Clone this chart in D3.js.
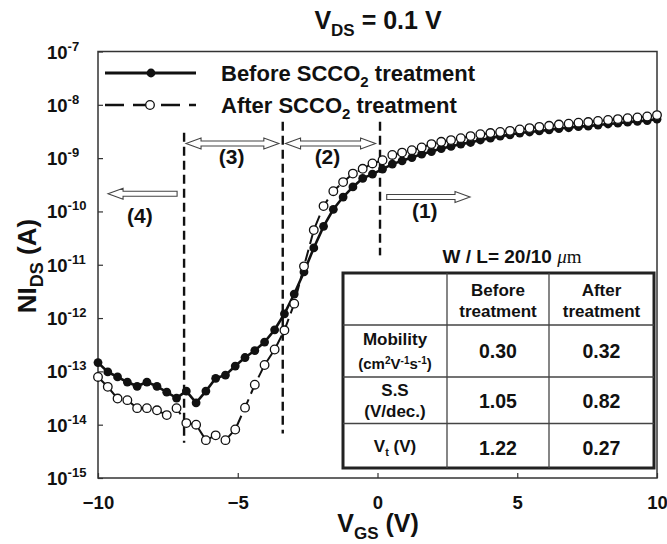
<!DOCTYPE html>
<html>
<head>
<meta charset="utf-8">
<title>NIds vs Vgs</title>
<script src="https://d3js.org/d3.v7.min.js"></script>
<style>
	*{ margin:0; padding:0; }
	body { background:#fff; }
	svg text { font-family: "Liberation Sans", Arial, sans-serif; font-weight: bold; fill:#111; }
</style>
</head>
<body>
<svg id="chart" width="667" height="544"></svg>
<script>
// gate voltage sweep (V)
var vgs = [-10,-9.65,-9.30,-8.95,-8.60,-8.25,-7.89,-7.54,-7.19,-6.84,-6.49,-6.14,-5.79,-5.44,-5.09,-4.74,-4.39,-4.04,-3.68,-3.33,
	-2.98,-2.63,-2.28,-1.93,-1.58,-1.23,-0.88,-0.53,-0.18,0.18,0.53,0.88,1.23,1.58,1.93,2.28,2.63,2.98,3.33,3.68,
	4.04,4.39,4.74,5.09,5.44,5.79,6.14,6.49,6.84,7.19,7.54,7.89,8.25,8.60,8.95,9.30,9.65,10];

// log10 of NIds (A)
var beforeLog = [-12.835,-13.01,-13.105,-13.2,-13.28,-13.2,-13.28,-13.39,-13.5,-13.37,-13.59,-13.37,-13.13,-13.07,-12.9,-12.74,-12.61,-12.45,-12.22,-11.92,
	-11.55,-11.135,-10.685,-10.28,-9.96,-9.73,-9.54,-9.38,-9.3,-9.206,-9.112,-9.05,-8.99,-8.925,-8.876,-8.82,-8.78,-8.737,-8.707,-8.66,
	-8.625,-8.587,-8.563,-8.53,-8.51,-8.49,-8.47,-8.445,-8.43,-8.41,-8.40,-8.38,-8.36,-8.345,-8.325,-8.31,-8.295,-8.27];
var afterLog = [-13.105,-13.29,-13.51,-13.54,-13.69,-13.69,-13.73,-13.82,-13.69,-13.97,-14.0,-14.29,-14.2,-14.29,-14.09,-13.68,-13.25,-12.88,-12.59,-12.23,
	-11.73,-11.03,-10.35,-9.9,-9.62,-9.45,-9.29,-9.2,-9.1,-9.04,-8.94,-8.896,-8.85,-8.80,-8.737,-8.694,-8.662,-8.625,-8.587,-8.55,
	-8.53,-8.51,-8.488,-8.463,-8.437,-8.413,-8.394,-8.37,-8.353,-8.335,-8.323,-8.304,-8.285,-8.268,-8.25,-8.238,-8.219,-8.193];

var xTicks = [-10,-5,0,5,10];
var yExps = [-15,-14,-13,-12,-11,-10,-9,-8,-7];

// region boundaries: [Vgs, top current, bottom current]
var boundaries = [[-6.92,3.0e-9,4.6e-15],[-3.39,4.8e-9,6.8e-15],[0.09,4.8e-9,1.5e-11]];
// region arrows: [from Vgs, to Vgs, current, double headed]
var arrows = [[-6.85,-3.53,1.88e-9,true],[-3.29,-0.07,1.88e-9,true],[-7.17,-9.64,2.14e-10,false],[0.33,3.31,1.86e-10,false]];
var regionLabels = [["(3)",-5.22,7.6e-10],["(2)",-1.79,7.6e-10],["(4)",-8.50,6.0e-11],["(1)",1.69,7.4e-11]];

var tableHead = [["",""],["Before","treatment"],["After","treatment"]];
var tableRows = ["Mobility","S.S","Vt"];
var tableBefore = ["0.30","1.05","1.22"];
var tableAfter = ["0.32","0.82","0.27"];

var svg = d3.select("#chart");
var x = d3.scaleLinear().domain([-10,10]).range([98,657]);
var y = d3.scaleLog().domain([1e-15,1e-7]).range([478,51.5]);

var ink = "#111";

// frame
svg.append("rect").attr("x",98).attr("y",51.5).attr("width",559).attr("height",426.5)
	.attr("fill","none").attr("stroke","#333").attr("stroke-width",1.5);

// axes with inward ticks
var xAxis = svg.append("g").attr("transform","translate(0,478)")
	.call(d3.axisBottom(x).tickValues(xTicks).tickSize(-5).tickPadding(12).tickFormat(d3.format("d")));
xAxis.select(".domain").remove();
xAxis.selectAll("line").attr("stroke","#333").attr("stroke-width",1.2);
xAxis.selectAll("text").attr("font-size",18.5).attr("font-family",null).attr("fill",ink).attr("dy","1em");

var yAxis = svg.append("g").attr("transform","translate(98,0)")
	.call(d3.axisLeft(y).tickValues(yExps.map(function(e){return Math.pow(10,e);})).tickSize(-5).tickFormat(""));
yAxis.select(".domain").remove();
yAxis.selectAll("line").attr("stroke","#333").attr("stroke-width",1.2);

var yl = svg.append("g").selectAll("text").data(yExps).enter().append("text")
	.attr("x",47).attr("y",function(d){return y(Math.pow(10,d))+7;})
	.attr("font-size",18.5);
yl.append("tspan").text("10");
yl.append("tspan").attr("dy",-8).attr("font-size",13).text(function(d){return d;});

// title
var t = svg.append("text").attr("x",378).attr("y",29).attr("text-anchor","middle").attr("font-size",25);
t.append("tspan").text("V");
t.append("tspan").attr("dy",7).attr("font-size",17).text("DS");
t.append("tspan").attr("dy",-7).text(" = 0.1 V");

// axis titles
var xt = svg.append("text").attr("x",378).attr("y",532).attr("text-anchor","middle").attr("font-size",25);
xt.append("tspan").text("V");
xt.append("tspan").attr("dy",7).attr("font-size",17).text("GS");
xt.append("tspan").attr("dy",-7).text(" (V)");

var yt = svg.append("text").attr("transform","translate(36,266) rotate(-90)").attr("text-anchor","middle").attr("font-size",26);
yt.append("tspan").text("NI");
yt.append("tspan").attr("dy",7).attr("font-size",18).text("DS");
yt.append("tspan").attr("dy",-7).text(" (A)");

// region boundaries
svg.append("g").selectAll("line").data(boundaries).enter().append("line")
	.attr("x1",function(d){return x(d[0]);}).attr("x2",function(d){return x(d[0]);})
	.attr("y1",function(d){return y(d[1]);}).attr("y2",function(d){return y(d[2]);})
	.attr("stroke",ink).attr("stroke-width",2.4).attr("stroke-dasharray","9,5");

// hollow arrows
function arrowPath(x0,x1,yy,both){
	var dir = x1 > x0 ? 1 : -1, hl = 15, sh = 2.5, hh = 5.5;
	var p = d3.path();
	var a = both ? x0 + dir*hl : x0;
	p.moveTo(x0,yy);
	if(both){ p.lineTo(a,yy-hh); p.lineTo(a,yy-sh); }
	else { p.moveTo(x0,yy-sh); }
	p.lineTo(x1-dir*hl,yy-sh); p.lineTo(x1-dir*hl,yy-hh); p.lineTo(x1,yy);
	p.lineTo(x1-dir*hl,yy+hh); p.lineTo(x1-dir*hl,yy+sh); p.lineTo(a,yy+sh);
	if(both){ p.lineTo(a,yy+hh); }
	p.closePath();
	return p.toString();
}
svg.append("g").selectAll("path").data(arrows).enter().append("path")
	.attr("d",function(d){return arrowPath(x(d[0]),x(d[1]),y(d[2]),d[3]);})
	.attr("fill","#fff").attr("stroke","#444").attr("stroke-width",1.1);

svg.append("g").selectAll("text").data(regionLabels).enter().append("text")
	.attr("x",function(d){return x(d[1]);}).attr("y",function(d){return y(d[2]);})
	.attr("text-anchor","middle").attr("font-size",21).text(function(d){return d[0];});

// curves
var pts = function(arr){ return vgs.map(function(v,i){ return [v, Math.pow(10,arr[i])]; }); };
var line = d3.line().x(function(d){return x(d[0]);}).y(function(d){return y(d[1]);});
var before = pts(beforeLog), after = pts(afterLog);

svg.append("path").datum(after).attr("d",line).attr("fill","none")
	.attr("stroke",ink).attr("stroke-width",2).attr("stroke-dasharray","12,6");
svg.append("path").datum(before).attr("d",line).attr("fill","none")
	.attr("stroke",ink).attr("stroke-width",2.6);
svg.append("g").selectAll("circle").data(before).enter().append("circle")
	.attr("cx",function(d){return x(d[0]);}).attr("cy",function(d){return y(d[1]);})
	.attr("r",4.4).attr("fill",ink);
svg.append("g").selectAll("circle").data(after).enter().append("circle")
	.attr("cx",function(d){return x(d[0]);}).attr("cy",function(d){return y(d[1]);})
	.attr("r",4.3).attr("fill","#fff").attr("stroke",ink).attr("stroke-width",1.3);

// legend
var lg = svg.append("g");
lg.append("line").attr("x1",105).attr("x2",196).attr("y1",73).attr("y2",73).attr("stroke",ink).attr("stroke-width",2.8);
lg.append("circle").attr("cx",151).attr("cy",73).attr("r",4.4).attr("fill",ink);
lg.append("line").attr("x1",105).attr("x2",196).attr("y1",105).attr("y2",105).attr("stroke",ink).attr("stroke-width",2.4).attr("stroke-dasharray","19,9");
lg.append("circle").attr("cx",150).attr("cy",105).attr("r",4.3).attr("fill","#fff").attr("stroke",ink).attr("stroke-width",1.3);
[["Before SCCO",73],["After SCCO",105]].forEach(function(d){
	var tx = lg.append("text").attr("x",221).attr("y",d[1]+8).attr("font-size",22);
	tx.append("tspan").text(d[0]);
	tx.append("tspan").attr("dy",6).attr("font-size",15).text("2");
	tx.append("tspan").attr("dy",-6).text(" treatment");
});

// W/L note
var wl = svg.append("text").attr("x",512).attr("y",263).attr("text-anchor","middle").attr("font-size",19);
wl.append("tspan").text("W / L= 20/10 ");
wl.append("tspan").attr("font-family","'Liberation Serif', serif").attr("font-weight","normal").attr("font-style","italic").text("\u03bc");
wl.append("tspan").attr("font-family","'Liberation Serif', serif").attr("font-weight","normal").text("m");

// parameter table
var cols = [343,447,549,654], rows = [273,325,377,423.5,468];
var tb = svg.append("g");
tb.append("rect").attr("x",cols[0]).attr("y",rows[0]).attr("width",cols[3]-cols[0]).attr("height",rows[4]-rows[0])
	.attr("fill","#fff").attr("stroke","#222").attr("stroke-width",3);
[cols[1],cols[2]].forEach(function(c){
	tb.append("line").attr("x1",c).attr("x2",c).attr("y1",rows[0]).attr("y2",rows[4]).attr("stroke","#444").attr("stroke-width",1.3);
});
[rows[1],rows[2],rows[3]].forEach(function(r){
	tb.append("line").attr("x1",cols[0]).attr("x2",cols[3]).attr("y1",r).attr("y2",r).attr("stroke","#444").attr("stroke-width",1.3);
});
var cx = [(cols[0]+cols[1])/2,(cols[1]+cols[2])/2,(cols[2]+cols[3])/2];
tableHead.forEach(function(h,i){
	tb.append("text").attr("x",cx[i]).attr("y",296).attr("text-anchor","middle").attr("font-size",17).text(h[0]);
	tb.append("text").attr("x",cx[i]).attr("y",317).attr("text-anchor","middle").attr("font-size",17).text(h[1]);
});
var rowMid = [351,401,448];
tb.append("text").attr("x",cx[0]).attr("y",345).attr("text-anchor","middle").attr("font-size",17).text(tableRows[0]);
var un = tb.append("text").attr("x",cx[0]).attr("y",369).attr("text-anchor","middle").attr("font-size",15);
un.append("tspan").text("(cm");
un.append("tspan").attr("dy",-5).attr("font-size",10).text("2");
un.append("tspan").attr("dy",5).text("V");
un.append("tspan").attr("dy",-5).attr("font-size",10).text("-1");
un.append("tspan").attr("dy",5).text("s");
un.append("tspan").attr("dy",-5).attr("font-size",10).text("-1");
un.append("tspan").attr("dy",5).text(")");
tb.append("text").attr("x",cx[0]).attr("y",396).attr("text-anchor","middle").attr("font-size",17).text(tableRows[1]);
tb.append("text").attr("x",cx[0]).attr("y",417).attr("text-anchor","middle").attr("font-size",17).text("(V/dec.)");
var vt = tb.append("text").attr("x",cx[0]).attr("y",452).attr("text-anchor","middle").attr("font-size",17);
vt.append("tspan").text("V");
vt.append("tspan").attr("dy",4).attr("font-size",11).text("t");
vt.append("tspan").attr("dy",-4).text(" (V)");
tableBefore.forEach(function(v,i){
	tb.append("text").attr("x",cx[1]).attr("y",rowMid[i]+7).attr("text-anchor","middle").attr("font-size",19.5).text(v);
});
tableAfter.forEach(function(v,i){
	tb.append("text").attr("x",cx[2]).attr("y",rowMid[i]+7).attr("text-anchor","middle").attr("font-size",19.5).text(v);
});
</script>
</body>
</html>
